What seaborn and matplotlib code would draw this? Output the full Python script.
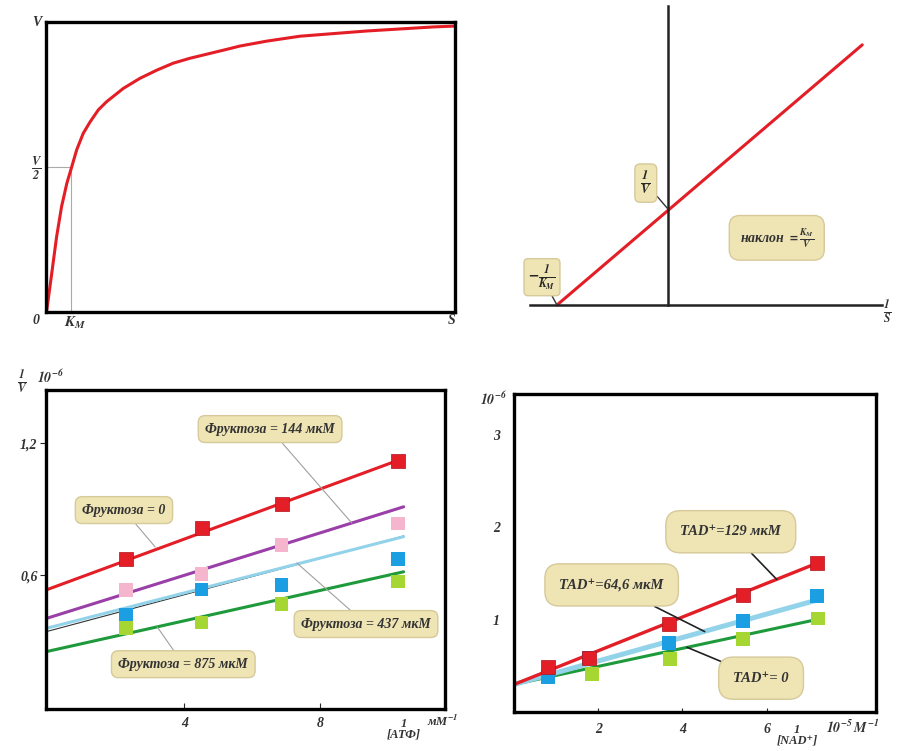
import numpy as np
import pandas as pd
import seaborn as sns
import matplotlib.pyplot as plt

# panel 1: Michaelis-Menten curve, S and V as fractions of the axis maximum
mm_s = [0, 0.002, 0.014, 0.026, 0.038, 0.051, 0.063, 0.075, 0.091, 0.108, 0.128,
        0.148, 0.189, 0.230, 0.271, 0.311, 0.352, 0.393, 0.434, 0.474, 0.5395,
        0.621, 0.7025, 0.784, 0.8655, 0.947, 1.0]
mm_v = [0, 0.007, 0.133, 0.260, 0.363, 0.444, 0.501, 0.559, 0.616, 0.656, 0.697,
        0.725, 0.771, 0.806, 0.834, 0.858, 0.875, 0.889, 0.903, 0.917, 0.934,
        0.951, 0.960, 0.969, 0.976, 0.983, 0.986]
km = 0.061
half_v = 0.5

# panel 2: Lineweaver-Burk line (units: 1/Km = 1, 1/V = 1)
lb_x = [-1.0, 1.75]
lb_y = [0.0, 2.71]

# panel 3: 1/V vs 1/[ATP] at several fructose levels
atp_x = [2.28, 4.51, 6.87, 10.30]
fr0_y = [0.671, 0.813, 0.924, 1.120]
fr144_y = [0.532, 0.605, 0.737, 0.835]
fr437_y = [0.418, 0.535, 0.554, 0.673]
fr875_y = [0.360, 0.384, 0.468, 0.570]
atp_line_x = [-0.08, 10.47]
fr0_line = [0.532, 1.132]
fr144_line = [0.402, 0.911]
fr437_line = [0.357, 0.775]
fr437_thin = [0.342, 0.778]
fr875_line = [0.251, 0.615]

# panel 4: 1/V vs 1/[NAD+] at several TAD+ levels
nad_x = [0.80, 1.78, 3.68, 5.43, 7.19]
tad129_y = [0.486, 0.588, 0.957, 1.264, 1.608]
tad646_y = [0.378, 0.588, 0.750, 0.986, 1.253]
tad0_x = [1.86, 3.70, 5.43, 7.23]
tad0_y = [0.414, 0.577, 0.794, 1.011]
nad_line_x = [0.0, 7.19]
tad129_line = [0.298, 1.608]
tad646_line = [0.298, 1.21]
tad0_line = [0.298, 1.0]

RED = '#e41e26'
PINK = '#f5b5cd'
BLUE = '#1c9fe2'
LIME = '#a6d632'
PURPLE = '#9a3fa8'
LBLUE = '#92d3ea'
GREEN = '#1e9a3c'
BOX = dict(boxstyle='round,pad=0.5', fc='#efe4b4', ec='#d6c99a', lw=1)

sns.set_theme(style='white')
plt.rcParams['font.family'] = ['Liberation Serif', 'DejaVu Serif']
plt.rcParams['mathtext.fontset'] = 'stix'
plt.rcParams['font.style'] = 'italic'
plt.rcParams['font.weight'] = 'bold'

W, H = 902, 751
fig = plt.figure(figsize=(W / 100, H / 100), dpi=100)


def box_at(left, top, right, bottom):
    return [left / W, 1 - bottom / H, (right - left) / W, (bottom - top) / H]


def ftext(x, y, s, size=9, **kw):
    fig.text(x / W, 1 - y / H, s, fontsize=size, ha='center', va='center',
             style='italic', weight='bold', color='#333333', **kw)


def frame(ax, lw=2.2):
    for sp in ax.spines.values():
        sp.set_visible(True)
        sp.set_color('black')
        sp.set_linewidth(lw)


def style_ticks(ax):
    for lab in ax.get_xticklabels() + ax.get_yticklabels():
        lab.set_fontstyle('italic')
        lab.set_fontweight('bold')
        lab.set_fontsize(10)
        lab.set_color('#333333')


# ---------------- panel 1 ----------------
ax1 = fig.add_axes(box_at(46, 22, 455, 312))
ax1.plot([0, km], [half_v, half_v], color='#aaaaaa', lw=0.8)
ax1.plot([km, km], [0, half_v], color='#aaaaaa', lw=0.8)
sns.lineplot(x=mm_s, y=mm_v, color=RED, lw=2.2, ax=ax1)
ax1.set_xlim(0, 1)
ax1.set_ylim(0, 1)
ax1.set_xticks([])
ax1.set_yticks([])
frame(ax1, 2.4)
ftext(37, 22, 'V', 10)
ftext(37, 168, r'$\frac{V}{2}$', 13)
ftext(36, 320, '0', 10)
ftext(75, 323, r'$K_M$', 11)
ftext(452, 320, 'S', 10)

# ---------------- panel 2 ----------------
ax2 = fig.add_axes(box_at(520, 0, 895, 330))
sns.lineplot(x=lb_x, y=lb_y, color=RED, lw=2.2, ax=ax2)
ax2.set_xlim(-1.333, 2.045)
ax2.set_ylim(-0.260, 3.177)
for side in ['top', 'right']:
    ax2.spines[side].set_visible(False)
for side in ['left', 'bottom']:
    ax2.spines[side].set_visible(True)
    ax2.spines[side].set_color('#222222')
    ax2.spines[side].set_linewidth(1.8)
    ax2.spines[side].set_position(('data', 0))
ax2.spines['left'].set_bounds(0, 3.115)
ax2.spines['bottom'].set_bounds(-1.24, 1.93)
ax2.set_xticks([])
ax2.set_yticks([])
lead = dict(arrowstyle='-', color='#333333', lw=1, shrinkA=0, shrinkB=0)
ax2.annotate(r'$\frac{1}{V}$', xy=(0, 1.0), xytext=(-0.2, 1.27), fontsize=13,
             ha='center', va='center', bbox=dict(BOX, boxstyle='round,pad=0.3'),
             arrowprops=lead)
ax2.annotate(r'$-\frac{1}{K_M}$', xy=(-1.0, 0.0), xytext=(-1.135, 0.29), fontsize=12,
             ha='center', va='center', bbox=dict(BOX, boxstyle='round,pad=0.25'),
             arrowprops=lead)
ax2.text(0.98, 0.70, r'наклон $=\frac{K_M}{V}$', fontsize=10, ha='center', va='center',
         style='italic', weight='bold', color='#333333',
         bbox=dict(BOX, boxstyle='round,pad=0.75'))
ftext(887, 312, r'$\frac{1}{S}$', 12)

# ---------------- panel 3 ----------------
ax3 = fig.add_axes(box_at(46, 390, 445, 709))
ax3.plot(atp_line_x, fr437_thin, color='#333333', lw=0.8)
sns.lineplot(x=atp_line_x, y=fr437_line, color=LBLUE, lw=2.2, ax=ax3)
sns.lineplot(x=atp_line_x, y=fr875_line, color=GREEN, lw=2.2, ax=ax3)
sns.lineplot(x=atp_line_x, y=fr144_line, color=PURPLE, lw=2.2, ax=ax3)
sns.lineplot(x=atp_line_x, y=fr0_line, color=RED, lw=2.2, ax=ax3)
sns.scatterplot(x=atp_x, y=fr0_y, color=RED, marker='s', s=95, edgecolor='#b01018', lw=0.5, ax=ax3, zorder=5)
sns.scatterplot(x=atp_x, y=fr144_y, color=PINK, marker='s', s=95, edgecolor='none', ax=ax3, zorder=5)
sns.scatterplot(x=atp_x, y=fr437_y, color=BLUE, marker='s', s=95, edgecolor='none', ax=ax3, zorder=5)
sns.scatterplot(x=atp_x, y=fr875_y, color=LIME, marker='s', s=95, edgecolor='none', ax=ax3, zorder=5)
ax3.set_xlim(-0.08, 11.69)
ax3.set_ylim(-0.01, 1.443)
ax3.set_xticks([4, 8], ['4', '8'])
ax3.set_yticks([0.6, 1.2], ['0,6', '1,2'])
ax3.tick_params(axis='x', direction='in', length=4, width=0.8, pad=6, bottom=True)
ax3.tick_params(axis='y', direction='out', length=4, width=0.8, pad=2, left=True)
style_ticks(ax3)
frame(ax3, 2.4)
grey = dict(arrowstyle='-', color='#a0a0a0', lw=0.8, shrinkA=0, shrinkB=0)
for txt, xy, xyt in [('Фруктоза = 144 мкМ', (8.94, 0.837), (6.53, 1.265)),
                     ('Фруктоза = 0', (3.14, 0.728), (2.22, 0.896)),
                     ('Фруктоза = 437 мкМ', (7.32, 0.655), (9.36, 0.377)),
                     ('Фруктоза = 875 мкМ', (3.20, 0.364), (3.97, 0.194))]:
    ax3.annotate(txt, xy=xy, xytext=xyt, fontsize=10, ha='center', va='center',
                 style='italic', weight='bold', color='#333333', bbox=BOX,
                 arrowprops=grey, zorder=6)
ftext(22, 382, r'$\frac{1}{V}$', 12)
ftext(50, 377, r'$\mathit{10^{-6}}$', 10)
ftext(404, 729, '1\n[АТФ]', 9, linespacing=0.85)
ftext(443, 721, r'мМ$^{-1}$', 9)

# ---------------- panel 4 ----------------
ax4 = fig.add_axes(box_at(514, 394, 876, 712))
sns.lineplot(x=nad_line_x, y=tad0_line, color=GREEN, lw=2.2, ax=ax4)
sns.lineplot(x=nad_line_x, y=tad646_line, color=LBLUE, lw=3.6, ax=ax4)
sns.lineplot(x=nad_line_x, y=tad129_line, color=RED, lw=2.4, ax=ax4)
sns.scatterplot(x=nad_x, y=tad646_y, color=BLUE, marker='s', s=100, edgecolor='none', ax=ax4, zorder=5)
sns.scatterplot(x=nad_x, y=tad129_y, color=RED, marker='s', s=100, edgecolor='#b01018', lw=0.5, ax=ax4, zorder=5)
sns.scatterplot(x=tad0_x, y=tad0_y, color=LIME, marker='s', s=100, edgecolor='none', ax=ax4, zorder=5)
ax4.set_xlim(0, 8.6)
ax4.set_ylim(0, 3.44)
ax4.set_xticks([2, 4, 6], ['2', '4', '6'])
ax4.set_yticks([1, 2, 3], ['1', '2', '3'])
ax4.tick_params(axis='x', direction='in', length=3, width=0.8, pad=8, bottom=True)
ax4.tick_params(axis='y', direction='in', length=0, pad=10, left=True)
style_ticks(ax4)
frame(ax4, 2.4)
black = dict(arrowstyle='-', color='#222222', lw=1.2, shrinkA=0, shrinkB=0)
box4 = dict(BOX, boxstyle='round,pad=1.0')
for txt, xy, xyt in [('TAD⁺=129 мкМ', (6.24, 1.435), (5.15, 1.95)),
                     ('TAD⁺=64,6 мкМ', (4.53, 0.87), (2.32, 1.375)),
                     ('TAD⁺= 0', (4.11, 0.70), (5.87, 0.366))]:
    ax4.annotate(txt, xy=xy, xytext=xyt, fontsize=10.5, ha='center', va='center',
                 style='italic', weight='bold', color='#333333', bbox=box4,
                 arrowprops=black, zorder=6)
ftext(493, 399, r'$\mathit{10^{-6}}$', 10)
ftext(797, 735, '1\n[NAD⁺]', 9, linespacing=0.85)
ftext(853, 727, r'$\mathit{10^{-5}\,M^{-1}}$', 10)

fig.savefig('out.png', dpi=100)
